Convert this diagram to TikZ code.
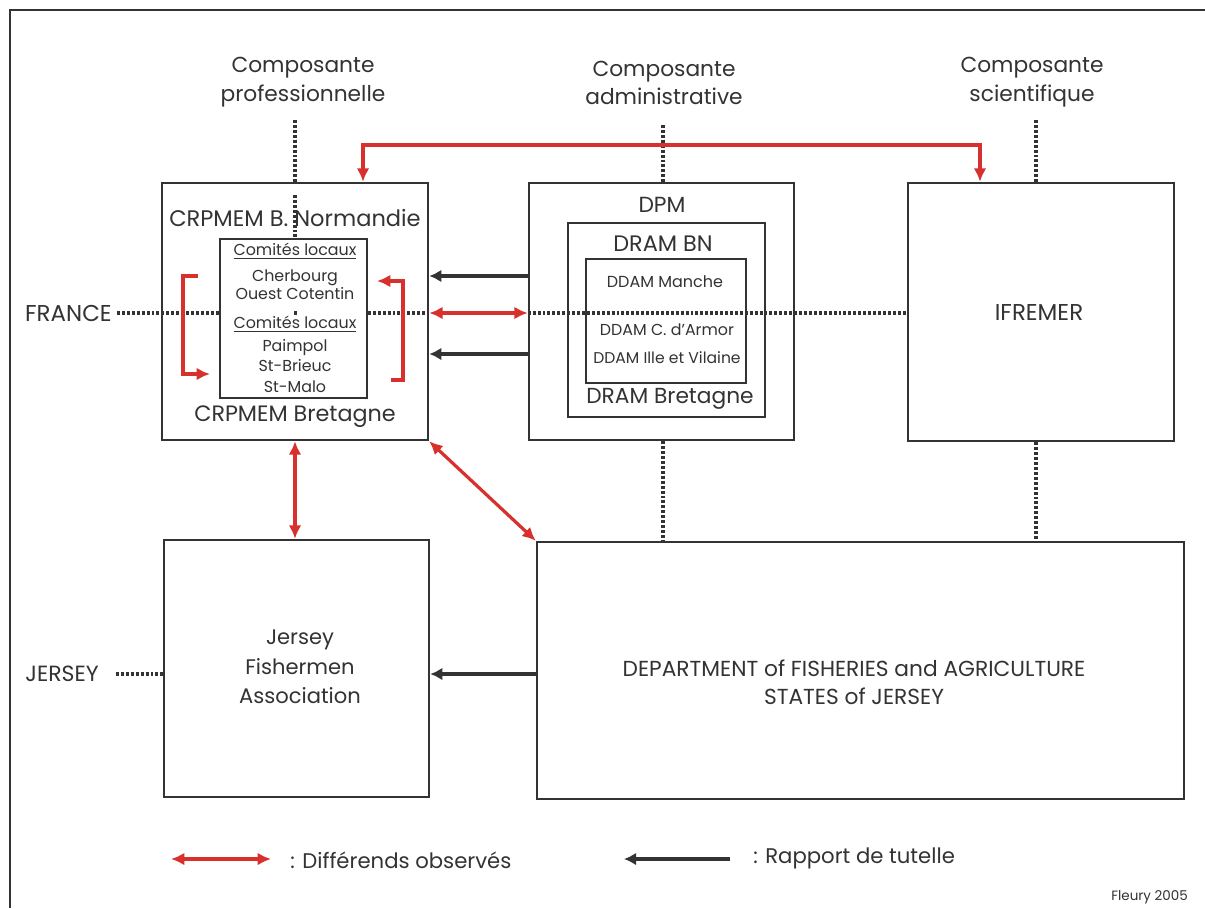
\documentclass[tikz,border=0pt]{standalone}
\usepackage{fontspec}
\setmainfont{Poppins}
\usetikzlibrary{arrows.meta,fit,calc}
\definecolor{dk}{HTML}{333333}
\definecolor{rd}{HTML}{D8302C}
\newcommand{\fz}[2]{\fontsize{#1pt}{#2pt}\selectfont}
\begin{document}
\begin{tikzpicture}[x=0.75pt,y=-0.75pt,
  every node/.style={text=dk,inner sep=0pt},
  bigbox/.style={draw=dk,line width=1.9pt,inner sep=0pt},
  smallbox/.style={draw=dk,line width=1.3pt,inner sep=0pt},
  dotl/.style={draw=dk,line width=2.3pt,dash pattern=on 2.2pt off 1.5pt},
  redboth/.style={draw=rd,line width=2.4pt,{Latex[length=10pt,width=9.5pt]}-{Latex[length=10pt,width=9.5pt]}},
  redone/.style={draw=rd,line width=2.4pt,-{Latex[length=10pt,width=9.5pt]}},
  blkarr/.style={draw=dk,line width=2.7pt,-{Latex[length=9pt,width=9.5pt]}},
  ]
\useasboundingbox (0,0) rectangle (1205,908);
\fill[white] (0,0) rectangle (1205,908);
% frame
\draw[dk,line width=2pt] (10,908) -- (10,10) -- (1205,10);

% boxes
\node[bigbox,fit={(162,183) (428,440)}] (crp) {};
\node[smallbox,fit={(220,239) (367,398)}] (com) {};
\node[bigbox,fit={(529,183) (794,440)}] (dpm) {};
\node[smallbox,fit={(568,223) (765,417)}] (dram) {};
\node[smallbox,fit={(586,259) (746,383)}] (ddam) {};
\node[bigbox,fit={(908,183) (1174,441)}] (ifr) {};
\node[bigbox,fit={(164,540) (429,797)}] (jfa) {};
\node[bigbox,fit={(537,542) (1184,799)}] (dept) {};

% top labels
\node[align=center,font=\fz{16.3}{21.5}] (cp) at (303,82) {Composante\\professionnelle};
\node[align=center,font=\fz{16.3}{21.5}] (ca) at (664,83) {Composante\\administrative};
\node[align=center,font=\fz{16.3}{21.5}] (cs) at (1032,82) {Composante\\scientifique};

% side labels
\node[anchor=east,font=\fz{17.2}{19}] (fr) at (112,313) {FRANCE};
\node[anchor=east,font=\fz{16.5}{19}] (je) at (99,674) {JERSEY};

% CRPMEM texts
\node[font=\fz{16.9}{19}] (crpbn) at (295,218) {CRPMEM B. Normandie};
\node[font=\fz{16.7}{19}] (crpbr) at (295,417) {CRPMEM Bretagne};
\node[font=\fz{11.9}{14}] (cl1) at (295,251) {\underline{Comités locaux}};
\node[align=center,font=\fz{11.9}{13.5}] (cher) at (295,285) {Cherbourg\\Ouest Cotentin};
\node[font=\fz{11.9}{14}] (cl2) at (295,324) {\underline{Comités locaux}};
\node[align=center,font=\fz{11.9}{15.3}] (pai) at (295,366) {Paimpol\\St-Brieuc\\St-Malo};

% DPM texts
\node[font=\fz{16.4}{18}] (tdpm) at (662,205) {DPM};
\node[font=\fz{16.8}{18}] (tdbn) at (663,244) {DRAM BN};
\node[font=\fz{12}{13}] (tdm) at (665,282) {DDAM Manche};
\node[font=\fz{11.9}{13}] (tdc) at (667,330) {DDAM C. d'Armor};
\node[font=\fz{11.7}{13}] (tdi) at (667,358) {DDAM Ille et Vilaine};
\node[font=\fz{16.3}{18}] (tdbr) at (670,399) {DRAM Bretagne};

% other box texts
\node[font=\fz{17.2}{19}] (tifr) at (1039,312) {IFREMER};
\node[align=center,font=\fz{15.8}{22.3}] (tjfa) at (300,667) {Jersey\\Fishermen\\Association};
\node[align=center,font=\fz{16.3}{21.3}] (tdept) at (854,682) {DEPARTMENT of FISHERIES and AGRICULTURE\\STATES of JERSEY};

% coordinates
\coordinate (v1) at (295,120);
\coordinate (v1i) at (295,195);
\coordinate (v2) at (663,125);
\coordinate (v3) at (1036,120);
\coordinate (hF) at (117,313);
\coordinate (hJ) at (116,674);
\coordinate (dotA) at (294,313);
\coordinate (dotB) at (297,313);
\coordinate (ya) at (0,276);
\coordinate (yb) at (0,354);
\coordinate (ta) at (363,145);
\coordinate (tb) at (980,145);
\coordinate (lb1) at (198,276);
\coordinate (lb2) at (183,276);
\coordinate (lb3) at (183,374);
\coordinate (lb4) at (210,374);
\coordinate (rb1) at (391,380);
\coordinate (rb2) at (403,380);
\coordinate (rb3) at (403,281);
\coordinate (rb4) at (377,281);

% dotted lines
\draw[dotl] (v1) -- (v1 |- crp.north);
\draw[dotl] (v1i) -- (v1i |- com.north);
\draw[dotl] (v2) -- (v2 |- dpm.north);
\draw[dotl] (v2 |- dpm.south) -- (v2 |- dept.north);
\draw[dotl] (v3) -- (v3 |- ifr.north);
\draw[dotl] (v3 |- ifr.south) -- (v3 |- dept.north);
\draw[dotl] (hF) -- (hF -| com.west);
\draw[dotl] (dotA) -- (dotB);
\draw[dotl] (hF -| com.east) -- (hF -| crp.east);
\draw[dotl] (hF -| dpm.west) -- (hF -| ifr.west);
\draw[dotl] (hJ) -- (hJ -| jfa.west);

% black arrows
\draw[blkarr] (ya -| dpm.west) -- (ya -| crp.east);
\draw[blkarr] (yb -| dpm.west) -- (yb -| crp.east);
\draw[blkarr] (hJ -| dept.west) -- (hJ -| jfa.east);

% red arrows
\draw[redboth] (hF -| crp.east) -- (hF -| dpm.west);
\draw[redboth] (ta |- crp.north) -- (ta) -- (tb) -- (tb |- ifr.north);
\draw[redboth] (v1 |- crp.south) -- (v1 |- jfa.north);
\draw[redboth] (crp.south east) -- (dept.north west);
\draw[redone] (lb1) -- (lb2) -- (lb3) -- (lb4);
\draw[redone] (rb1) -- (rb2) -- (rb3) -- (rb4);

% legend
\coordinate (la) at (171,859);
\coordinate (lb) at (271,859);
\coordinate (lc) at (730,859);
\coordinate (ld) at (624,859);
\draw[redboth] (la) -- (lb);
\node[anchor=west,font=\fz{15.9}{18}] (ldiff) at (290,860) {: Différends observés};
\draw[blkarr] (lc) -- (ld);
\node[anchor=west,font=\fz{15.9}{18}] (lrap) at (753,858) {: Rapport de tutelle};
\node[anchor=east,font=\fz{10.1}{11}] (fleury) at (1188,897) {Fleury 2005};
\end{tikzpicture}
\end{document}
